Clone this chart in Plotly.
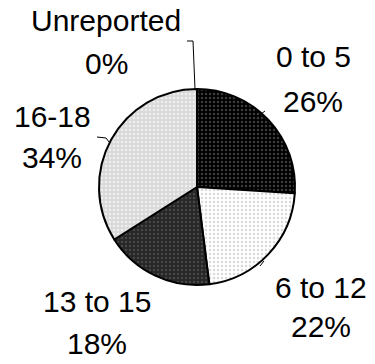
import plotly.graph_objects as go

# Age groups and their share of the total (percent)
age_groups = ["0 to 5", "6 to 12", "13 to 15", "16-18", "Unreported"]
shares = [26, 22, 18, 34, 0]

W, H = 375, 364

# Finely dotted grey fills for each slice
bg_colors = ["#000000", "#ffffff", "#262626", "#d9d9d9", "#ffffff"]
fg_colors = ["#3c3c3c", "#dadada", "#474747", "#f0f0f0", "#ffffff"]

fig = go.Figure(
    go.Pie(
        labels=age_groups,
        values=shares,
        sort=False,
        direction="clockwise",
        rotation=0,
        textinfo="none",
        hoverinfo="label+percent",
        showlegend=False,
        marker=dict(
            colors=bg_colors,
            line=dict(color="#000000", width=2),
            pattern=dict(
                shape=".",
                bgcolor=bg_colors,
                fgcolor=fg_colors,
                size=4,
                solidity=0.3,
                fillmode="replace",
            ),
        ),
        domain=dict(x=[99 / W, 295 / W], y=[1 - 285 / H, 1 - 89 / H]),
    )
)

# Label placement: (center x, baseline y) in pixels for name line and percent line
label_pos = {
    "Unreported": ((106, 30), (106, 73)),
    "0 to 5": ((313, 66), (313, 111)),
    "6 to 12": ((321, 297), (321, 336)),
    "13 to 15": ((97, 311), (97, 353)),
    "16-18": ((52, 127), (52, 167)),
}

FONT = dict(family="Liberation Sans, Arial, sans-serif", size=30, color="#000000")
annotations = []
for name, val in zip(age_groups, shares):
    (x1, b1), (x2, b2) = label_pos[name]
    for txt, (x, b) in ((name, (x1, b1)), (f"{val}%", (x2, b2))):
        annotations.append(
            dict(
                text=txt,
                x=x / W,
                y=1 - (b - 10) / H,
                xref="paper",
                yref="paper",
                xanchor="center",
                yanchor="middle",
                showarrow=False,
                font=FONT,
            )
        )

# Short leader lines from labels to the pie
leaders = [
    [(187, 41), (193, 41), (195, 89)],
    [(97, 137), (106, 138), (109, 142)],
    [(261, 114), (265, 111)],
    [(260, 266), (264, 261)],
]
shapes = []
for pts in leaders:
    for (xa, ya), (xb, yb) in zip(pts[:-1], pts[1:]):
        shapes.append(
            dict(
                type="line",
                xref="paper",
                yref="paper",
                x0=xa / W,
                y0=1 - ya / H,
                x1=xb / W,
                y1=1 - yb / H,
                line=dict(color="#000000", width=1),
            )
        )

fig.update_layout(
    width=W,
    height=H,
    margin=dict(l=0, r=0, t=0, b=0),
    paper_bgcolor="#ffffff",
    plot_bgcolor="#ffffff",
    annotations=annotations,
    shapes=shapes,
)

fig.write_html("out.html")
